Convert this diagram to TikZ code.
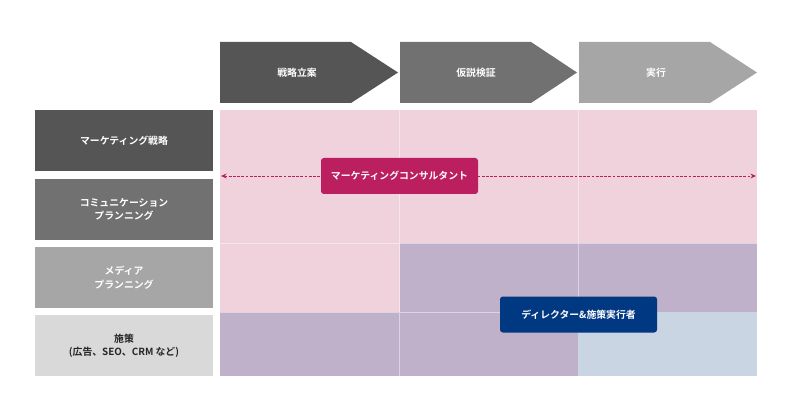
\documentclass[tikz,border=0pt]{standalone}
\usepackage{fontspec}
\newfontfamily\jp{Noto Sans CJK JP}[BoldFont={* Bold}]
\usetikzlibrary{arrows.meta}
\definecolor{chevA}{HTML}{555555}
\definecolor{chevB}{HTML}{717171}
\definecolor{chevC}{HTML}{A6A6A6}
\definecolor{chevD}{HTML}{D9D9D9}
\definecolor{cellpink}{HTML}{F0D2DD}
\definecolor{cellpurple}{HTML}{C0B1CB}
\definecolor{cellblue}{HTML}{CAD5E3}
\definecolor{consult}{HTML}{BC1F5F}
\definecolor{director}{HTML}{003882}
\tikzset{
  lbl/.style={font=\jp\bfseries\fontsize{7}{9.5}\selectfont, text=white, align=center},
  rowbox/.style={lbl, minimum width=178*0.025cm, minimum height=61*0.025cm, inner sep=0pt},
  rolebox/.style={lbl, rounded corners=2pt, minimum width=157*0.025cm, minimum height=36*0.025cm, inner sep=0pt}
}
\begin{document}
\begin{tikzpicture}[x=0.025cm,y=-0.025cm]
 \useasboundingbox (0,0) rectangle (800,419);
 % phases
 \fill[chevA] (220,42) -- (351,42) -- (398,72.5) -- (351,103) -- (220,103) -- cycle;
 \fill[chevB] (400,42) -- (531,42) -- (577,72.5) -- (531,103) -- (400,103) -- cycle;
 \fill[chevC] (579,42) -- (710,42) -- (757,72.5) -- (710,103) -- (579,103) -- cycle;
 \node[lbl] (plan) at (297,72.5) {戦略立案};
 \node[lbl] (verify) at (476,72.5) {仮説検証};
 \node[lbl] (exec) at (656,72.5) {実行};
 % rows
 \node[rowbox, fill=chevA] (strategy) at (124,140.5) {マーケティング戦略};
 \node[rowbox, fill=chevB] (comm) at (124,209.5) {コミュニケーション\\プランニング};
 \node[rowbox, fill=chevC] (media) at (124,277.5) {メディア\\プランニング};
 \node[rowbox, fill=chevD, text=black!85] (measures) at (124,345.5) {施策\\(広告、SEO、CRM など)};
 % cells
 \fill[cellpink] (220,110) rectangle (757,376);
 \fill[cellpurple] (400,243) rectangle (757,312);
 \fill[cellpurple] (220,312) rectangle (578,376);
 \fill[cellblue] (578,312) rectangle (757,376);
 \draw[white, opacity=.45, line width=.5pt] (399,110) -- (399,376) (578,110) -- (578,312)
   (220,243) -- (757,243) (220,312) -- (578,312);
 % roles
 \coordinate (cl) at (221,176);
 \coordinate (cr) at (756,176);
 \draw[consult, dashed, dash pattern=on 2pt off 1pt, line width=.6pt, {Stealth[length=4pt,width=3.5pt]}-{Stealth[length=4pt,width=3.5pt]}] (cl) -- (cr);
 \node[rolebox, fill=consult] (consultant) at (399.5,176) {マーケティングコンサルタント};
 \node[rolebox, fill=director] (directors) at (578.5,314.5) {ディレクター\&施策実行者};
\end{tikzpicture}
\end{document}
